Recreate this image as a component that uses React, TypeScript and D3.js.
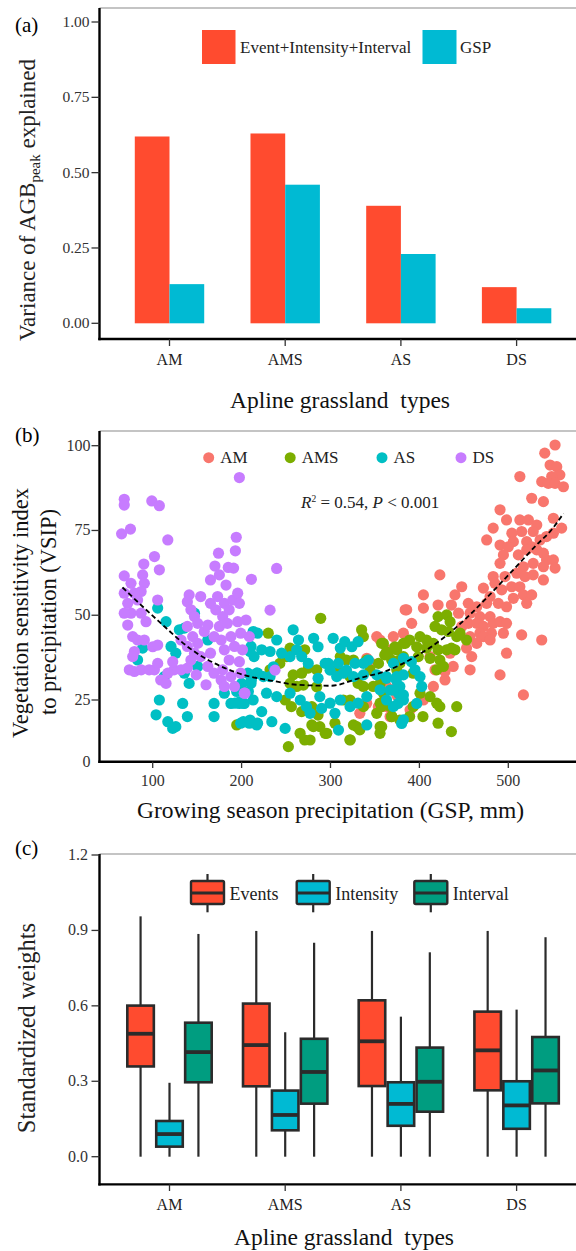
import * as d3 from "d3";

const FONT = "'Liberation Serif', 'DejaVu Serif', serif";
const RED = "#FF4B2F";
const CYAN = "#00BAD3";
const TEAL = "#009D80";
const INK = "#2b2b2b";

const TYPES = ["AM", "AMS", "AS", "DS"];

// (a) variance explained
const VAR_SERIES = ["Event+Intensity+Interval", "GSP"];
const VAR_EVENT = [0.62, 0.63, 0.39, 0.12];
const VAR_GSP = [0.13, 0.46, 0.23, 0.05];
const A_TICKS = [0, 0.25, 0.5, 0.75, 1];

// (b) VSIP vs GSP, points as [GSP mm, VSIP]
const GROUPS = ["AM", "AMS", "AS", "DS"];
const GROUP_COLORS = ["#F8766D", "#7CAE00", "#00BFC4", "#C77CFF"];
const AM_PTS = [
  [552.6, 100.2], [541, 97.8], [547, 94.3], [554.5, 93.8], [558, 91.4], [548.8, 90.9], [537.6, 89.4], [545, 88.9],
  [552.6, 88.9], [562, 87.9], [513, 90.9], [526.3, 84.5], [539.5, 83.5], [550.7, 78.6], [560, 75.7], [490.7, 81.1],
  [498, 78.1], [483, 75.7], [475.7, 72.2], [513, 78.1], [522.6, 78.1], [532, 76.6], [515, 74.7], [528, 74.7],
  [535.7, 72.2], [543, 73.2], [550.7, 74.2], [504, 74.2], [505.7, 71.7], [520.7, 71.7], [526.3, 70.2], [490.7, 70.7],
  [500, 70.2], [494.5, 67.8], [490.7, 65.3], [511.3, 67.8], [520.7, 69.3], [532, 69.3], [539.5, 68.3], [543, 66.3],
  [550.7, 66.3], [539.5, 64.3], [552.6, 63.9], [528, 65.3], [517, 64.3], [509.5, 62.4], [423, 61.9], [483, 61.4],
  [496.3, 61.4], [485, 59.4], [518.8, 61.4], [528, 61.9], [539.5, 60.4], [503.8, 58.4], [513, 58.4], [492.6, 57.5],
  [505.7, 55], [517, 56], [526.3, 56], [520.7, 53.5], [404.5, 56], [440, 56], [447.6, 58.4], [472, 58],
  [479.5, 55.5], [385.7, 51.6], [404.5, 52.1], [421, 53], [436, 53], [444, 50.6], [455, 53.5], [464.5, 52.5],
  [475.7, 53.5], [488.8, 53.5], [498, 52.5], [457, 50.6], [468, 49.6], [479.5, 49.6], [455, 47.6], [464.5, 47.6],
  [472, 46.7], [483, 47.6], [490.7, 48.1], [498, 47.6], [468, 44.7], [481, 44.7], [494.5, 44.7], [447.6, 46.7],
  [457, 43.7], [472, 43.7], [464.5, 41.7], [479.5, 42.7], [515, 44.2], [537.6, 42.7], [453, 40.3], [458.8, 37.8],
  [498, 38.8], [434.5, 38.8], [438, 34.9], [428.8, 30.9], [457, 33.9], [490.7, 32.4], [517, 26.5], [391.3, 47.6],
  [382, 44.7], [370.7, 43.7], [412, 37.8], [417.6, 33.9], [428.8, 33.4], [415.7, 29], [404.5, 25], [393, 22.3],
  [374.5, 29], [363, 22.3], [367, 18.3], [355.7, 42.7], [346.3, 35.8], [340.7, 23.7], [333, 19.6], [353.8, 22.3],
  [367, 22.3], [374.5, 26.4], [384, 51.6], [352, 43.7], [340.8, 37.3], [367, 39.8], [357.6, 22.3], [363, 29],
  [389.5, 21],
];
const AMS_PTS = [
  [289, 49.1], [230, 44.7], [254.5, 40.3], [271, 39.8], [250.8, 37.8], [275, 34.4], [284.5, 33.9], [267.6, 32.9],
  [258, 32.4], [269.5, 29.4], [284.5, 28.9], [254.5, 29.9], [262, 29], [249, 25], [256, 22.3], [267.6, 20.3],
  [279, 22.3], [286, 18.9], [194.5, 14.9], [279, 14.9], [288, 14.2], [295.8, 11.5], [265.8, 11.5], [271, 8.8],
  [277, 8.8], [252.6, 6.1], [322, 8.8], [325.8, 14.9], [329.5, 14.2], [355.8, 14.2], [369, 18.3], [335, 45.7],
  [337, 43.7], [359.5, 41.7], [365, 38.8], [374.5, 39.8], [384, 41.7], [382, 37.8], [311, 37.8], [318, 36.8],
  [307, 33.9], [325.8, 36.8], [340.8, 36.8], [344.5, 33.9], [322, 31.9], [331, 29.9], [348, 29], [355.8, 29.9],
  [359.5, 27], [355.8, 23.7], [352, 19.6], [367, 22.3], [337, 22.3], [322, 25], [314.5, 25], [337, 29],
  [243, 35.8], [232, 33.9], [421, 49.6], [430.7, 50.1], [434.5, 48.1], [417.6, 46.7], [425, 45.7], [432.6, 45.2],
  [442, 43.7], [453, 42.7], [445.7, 44.7], [400.7, 43.7], [408, 42.7], [415.7, 41.7], [397, 40.7], [408, 40.3],
  [421, 39.8], [430.7, 39.8], [436, 40.3], [440, 39.8], [398.8, 37.8], [412, 37.3], [423, 36.8], [419.5, 33.9],
  [427, 34.9], [389, 42.7], [382, 41.7], [372.6, 40.7], [378, 36.8], [368.8, 36.8], [357.6, 41.7], [361, 38.3],
  [374.5, 33.9], [393, 32.9], [400.7, 27], [412, 26], [419.5, 23.7], [423, 22.3], [442, 22.3], [421, 15.6],
  [436, 12.2], [393, 22.3], [368.8, 18.3], [357.6, 22.3], [357.6, 14.2], [280.7, 14.2], [294, 11.5], [305, 15.6],
  [322, 8.9], [333, 12.9], [355.7, 11.5], [378, 16.9], [389, 18.3], [404, 18.3], [363, 39.2], [354, 35.8],
  [378, 35.8],
];
const AS_PTS = [
  [105.6, 52.1], [115, 48.1], [130, 45.7], [135.6, 46.2], [147, 50.6], [120.6, 40.8], [126, 38.8], [88.7, 40.3],
  [83, 36.8], [113, 31.9], [141, 29.9], [135.6, 32.9], [150.6, 34.9], [162, 42.7], [107.5, 25], [103.8, 19],
  [133.7, 23.6], [139, 18.3], [117, 16.2], [122.5, 13.5], [126, 14.2], [169, 23.6], [169, 18.3], [188, 23.6],
  [197.5, 23.6], [203, 23.6], [199, 15.6], [208.7, 15.6], [218, 15.6], [210.6, 40.8], [218, 44.7], [214, 37.8],
  [207, 32.9], [210.6, 29.9], [218, 32.9], [180.6, 27], [213, 45.2], [258, 45.7], [264, 42.7], [281, 43.2],
  [286, 40.7], [303, 43.2], [311, 40.3], [316, 42.2], [324, 40.7], [331, 42.2], [239.5, 42.7], [245, 38.8],
  [254.5, 37.8], [262, 39.8], [235.8, 34.8], [222.6, 39.8], [232, 39.3], [209.5, 39.3], [217, 32.9], [224.5, 31.9],
  [232, 31.9], [211, 30.9], [228, 27], [239.5, 26], [213, 25], [202, 23.7], [192.6, 23.7], [254.5, 27],
  [266, 25], [273, 22.3], [286, 31.4], [297.6, 35.8], [307, 31.9], [314.5, 32.9], [325.8, 31.9], [337, 32.4],
  [342.6, 36.8], [352, 32.4], [363, 31.9], [370.8, 35.8], [374.5, 31.9], [378, 29], [382, 32.4], [376.4, 27],
  [367, 27.9], [288, 26], [299.5, 23.7], [305, 19.6], [311, 25], [322, 22.3], [331, 23.7], [340.8, 26],
  [355.8, 28], [363, 25], [370.8, 22.3], [382, 25], [222.6, 20.3], [234, 16.2], [249, 13.5], [277, 19.6],
  [290, 21.6], [309, 12.8], [340.8, 14.9], [380, 15.5], [202, 16.2], [209.5, 16.9], [217, 14.9], [200, 29.9],
  [194.5, 27.5], [207.6, 27.5], [198, 24.3], [382, 37.3], [391, 36.3], [395, 33.9], [363, 31.4], [374, 30.9],
  [400.7, 31.9], [402.6, 29], [370.7, 28], [382, 26.5], [376, 23.6], [397, 23.6], [382, 17], [267.6, 37.8],
  [275, 35.8], [294, 35.8], [299.5, 33.8], [308.8, 35.8], [318, 33.8], [327.6, 35.8], [337, 35.8],
];
const DS_PTS = [
  [197.5, 90.6], [68, 84.2], [68, 82.5], [99, 83.7], [107.5, 82.3], [65, 74], [75, 75.4], [117, 72.2],
  [194, 73], [193, 69], [102, 67.3], [107.5, 63.4], [90, 65.1], [174, 68.3], [170, 64.5], [185, 64.1],
  [191, 63.9], [211, 60.6], [165, 60.4], [175, 61.9], [182.5, 58.9], [68, 61.6], [75.6, 59.4], [88.7, 61.9],
  [90.6, 59.4], [87, 57], [68, 56.5], [71.9, 53.5], [79.4, 56.5], [83, 54.5], [75.6, 50.6], [68, 50.6],
  [71.9, 47.1], [77.5, 43.7], [87, 50.6], [92.5, 48.1], [83, 42.7], [79.4, 39.3], [73.7, 33.9], [79.4, 33.4],
  [87, 33.9], [96, 33.9], [101.9, 33.9], [105.6, 35.8], [100, 40.7], [105.6, 41.2], [77.5, 37.8], [90.6, 42.7],
  [105.6, 54.5], [141, 56], [139, 54], [154, 55.5], [143, 51.6], [147, 49.6], [139, 46.7], [150.6, 47.6],
  [145, 43.7], [158, 45.2], [131.9, 42.7], [139, 40.8], [147, 38.8], [150.6, 41.7], [154, 37.8], [143, 36.8],
  [124, 33.9], [131.9, 33.9], [117, 32.9], [109, 30.9], [115, 29.9], [149, 32.4], [162, 34.9], [169, 32.9],
  [165, 38.8], [160, 29.5], [177, 30.9], [165, 53.5], [173, 55.5], [180.6, 53.5], [171, 51.6], [178.7, 49.6],
  [186, 51.6], [190, 54.5], [195.6, 56.5], [197.5, 53.5], [162, 47.1], [175, 46.7], [184, 47.6], [195.6, 48.1],
  [205, 48.6], [208.7, 43.7], [199, 44.7], [188, 43.7], [177, 42.7], [169, 43.7], [180.6, 39.8], [192, 40.8],
  [201, 39.8], [186, 36.8], [197.5, 36.3], [178.7, 33.9], [188, 31.9], [199, 32.9], [180.6, 29], [192, 29],
  [203, 27], [139, 34.4], [122.5, 36.3], [239.4, 63.8], [232, 51.5], [237.6, 33.8], [203.8, 27],
];
const GROUP_PTS = [AM_PTS, AMS_PTS, AS_PTS, DS_PTS];
const TREND_GSP = [66, 106, 143, 193, 240, 262, 300, 333, 362, 400, 424, 457, 480, 506, 532, 548, 562];
const TREND_VSIP = [58.2, 48.4, 40, 33.2, 30.4, 29.5, 29.2, 31.5, 33.5, 38.5, 42.7, 50.2, 56.3, 63.5, 70.8, 75, 80];
const B_XTICKS = [100, 200, 300, 400, 500];
const B_YTICKS = [0, 25, 50, 75, 100];

// (c) standardized weights, boxes as [min, q1, median, q3, max]
const WEIGHT_SERIES = ["Events", "Intensity", "Interval"];
const WEIGHT_COLORS = [RED, CYAN, TEAL];
const EVENTS_BOX = [[0, 0.359, 0.489, 0.601, 0.956], [0, 0.28, 0.444, 0.609, 0.898], [0, 0.281, 0.459, 0.622, 0.898], [0, 0.264, 0.423, 0.577, 0.898]];
const INTENSITY_BOX = [[0, 0.04, 0.09, 0.142, 0.294], [0, 0.105, 0.166, 0.263, 0.495], [0, 0.123, 0.21, 0.296, 0.557], [0, 0.111, 0.204, 0.3, 0.585]];
const INTERVAL_BOX = [[0, 0.296, 0.416, 0.533, 0.886], [0, 0.211, 0.337, 0.469, 0.851], [0, 0.179, 0.298, 0.434, 0.813], [0, 0.212, 0.343, 0.476, 0.873]];
const WEIGHT_BOXES = [EVENTS_BOX, INTENSITY_BOX, INTERVAL_BOX];
const C_TICKS = [0, 0.3, 0.6, 0.9, 1.2];

const W = 576;
const H = 1251;
const AX_L = 99.5;
const PRE = { whiteSpace: "pre" };

function Frame({ top, bottom }) {
  return (
    <g>
      <line x1={AX_L} x2={W} y1={top} y2={top} stroke="#8a8a8a" strokeWidth={1.2} />
      <line x1={AX_L} x2={AX_L} y1={top} y2={bottom + 1.2} stroke="#000" strokeWidth={2.4} />
      <line x1={AX_L - 1.2} x2={W} y1={bottom} y2={bottom} stroke="#000" strokeWidth={2.4} />
    </g>
  );
}

export default function App() {
  const xCat = d3.scalePoint().domain(TYPES).range([169.5, 516.6]);
  const step = xCat.step();

  // panel a
  const yA = d3.scaleLinear().domain([0, 1]).range([323.3, 22]);
  const dodgeA = d3.scaleBand().domain(VAR_SERIES).range([-0.3 * step, 0.3 * step]);
  const varValues = [VAR_EVENT, VAR_GSP];
  const varColors = [RED, CYAN];

  // panel b
  const xB = d3.scaleLinear().domain([100, 500]).range([152.7, 508.3]);
  const yB = d3.scaleLinear().domain([0, 25, 100]).range([761.7, 700, 445.7]);
  const trend = d3.line().x((d) => xB(d[0])).y((d) => yB(d[1])).curve(d3.curveMonotoneX);
  const trendPts = TREND_GSP.map((g, i) => [g, TREND_VSIP[i]]);

  // panel c
  const yC = d3.scaleLinear().domain([0, 1.2]).range([1156.7, 855]);
  const dodgeC = d3.scaleBand().domain(WEIGHT_SERIES).range([-0.375 * step, 0.375 * step]);
  const bw = dodgeC.bandwidth();

  return (
    <div style={{ position: "absolute", left: 0, top: 0 }}>
      <svg width={W} height={H} style={{ display: "block", background: "#fff" }} fontFamily={FONT}>
        {/* ---------- (a) ---------- */}
        <text x={15} y={31.5} fontSize={21}>(a)</text>
        {VAR_SERIES.map((s, si) =>
          TYPES.map((t, i) => (
            <rect key={s + t} x={xCat(t) + dodgeA(s)} width={dodgeA.bandwidth()} y={yA(varValues[si][i])}
              height={yA(0) - yA(varValues[si][i])} fill={varColors[si]} />
          ))
        )}
        <Frame top={8} bottom={339} />
        {A_TICKS.map((v) => (
          <g key={v}>
            <line x1={AX_L - 8} x2={AX_L} y1={yA(v)} y2={yA(v)} stroke="#333" strokeWidth={1.3} />
            <text x={89.5} y={yA(v) + 5} textAnchor="end" fontSize={15.5} fill="#333">{d3.format(".2f")(v)}</text>
          </g>
        ))}
        {TYPES.map((t) => (
          <g key={t}>
            <line x1={xCat(t)} x2={xCat(t)} y1={339} y2={346} stroke="#333" strokeWidth={1.3} />
            <text x={xCat(t)} y={365} textAnchor="middle" fontSize={16} fill="#222">{t}</text>
          </g>
        ))}
        <rect x={202} y={30} width={33.5} height={34} fill={RED} />
        <text x={240} y={52.5} fontSize={17} fill="#222">{VAR_SERIES[0]}</text>
        <rect x={422.5} y={30} width={34} height={34} fill={CYAN} />
        <text x={460} y={52.5} fontSize={17} fill="#222">{VAR_SERIES[1]}</text>
        <text transform="translate(35,200) rotate(-90)" textAnchor="middle" fontSize={23} fill="#222">
          Variance of AGB<tspan fontSize={15} dy={5}>peak</tspan><tspan dy={-5} style={PRE}> explained</tspan>
        </text>
        <text x={340} y={408} textAnchor="middle" fontSize={23.5} fill="#111" style={PRE}>Apline grassland  types</text>

        {/* ---------- (b) ---------- */}
        <text x={15} y={441.5} fontSize={21}>(b)</text>
        {GROUP_PTS.map((pts, gi) => (
          <g key={GROUPS[gi]}>
            {pts.map((p, i) => (
              <circle key={i} cx={xB(p[0])} cy={yB(p[1])} r={5.6} fill={GROUP_COLORS[gi]} />
            ))}
          </g>
        ))}
        <path d={trend(trendPts)} fill="none" stroke="#000" strokeWidth={1.8} strokeDasharray="5,3" />
        <Frame top={431} bottom={761.7} />
        {B_YTICKS.map((v) => (
          <g key={v}>
            {v > 0 && <line x1={AX_L - 8} x2={AX_L} y1={yB(v)} y2={yB(v)} stroke="#333" strokeWidth={1.3} />}
            <text x={90.5} y={yB(v) + 5} textAnchor="end" fontSize={16} fill="#333">{v}</text>
          </g>
        ))}
        {B_XTICKS.map((v) => (
          <g key={v}>
            <line x1={xB(v)} x2={xB(v)} y1={761.7} y2={768} stroke="#333" strokeWidth={1.3} />
            <text x={xB(v)} y={786} textAnchor="middle" fontSize={16} fill="#333">{v}</text>
          </g>
        ))}
        {[208.7, 290.2, 382, 461].map((lx, gi) => (
          <g key={GROUPS[gi]}>
            <circle cx={lx} cy={457.7} r={5.5} fill={GROUP_COLORS[gi]} />
            <text x={lx + 11.5} y={463} fontSize={17} fill="#222">{GROUPS[gi]}</text>
          </g>
        ))}
        <text x={301} y={507.5} fontSize={17} fill="#222" style={PRE}>
          <tspan fontStyle="italic">R</tspan><tspan fontSize={9.5} dy={-6}>2</tspan><tspan dy={6}> = 0.54, </tspan>
          <tspan fontStyle="italic">P</tspan> &lt; 0.001
        </text>
        <text transform="translate(28,613) rotate(-90)" textAnchor="middle" fontSize={22.5} fill="#111">Vegetation sensitivity index</text>
        <text transform="translate(56,612) rotate(-90)" textAnchor="middle" fontSize={22.5} fill="#111">to precipitation (VSIP)</text>
        <text x={330.6} y={818} textAnchor="middle" fontSize={23.5} fill="#111">Growing season precipitation (GSP, mm)</text>

        {/* ---------- (c) ---------- */}
        <text x={15} y={855} fontSize={21}>(c)</text>
        {WEIGHT_SERIES.map((s, si) =>
          TYPES.map((t, i) => {
            const [mn, q1, md, q3, mx] = WEIGHT_BOXES[si][i];
            const x0 = xCat(t) + dodgeC(s);
            const cx = x0 + bw / 2;
            return (
              <g key={s + t}>
                <line x1={cx} x2={cx} y1={yC(mx)} y2={yC(mn)} stroke={INK} strokeWidth={2.2} />
                <rect x={x0 + 1.2} y={yC(q3)} width={bw - 2.4} height={yC(q1) - yC(q3)} fill={WEIGHT_COLORS[si]}
                  stroke={INK} strokeWidth={2.6} />
                <line x1={x0 + 1.2} x2={x0 + bw - 1.2} y1={yC(md)} y2={yC(md)} stroke={INK} strokeWidth={3.8} />
              </g>
            );
          })
        )}
        <Frame top={854} bottom={1184.4} />
        {C_TICKS.map((v) => (
          <g key={v}>
            <line x1={AX_L - 8} x2={AX_L} y1={yC(v)} y2={yC(v)} stroke="#333" strokeWidth={1.3} />
            <text x={88} y={yC(v) + 5} textAnchor="end" fontSize={16} fill="#333">{d3.format(".1f")(v)}</text>
          </g>
        ))}
        {TYPES.map((t) => (
          <g key={t}>
            <line x1={xCat(t)} x2={xCat(t)} y1={1184.4} y2={1191} stroke="#333" strokeWidth={1.3} />
            <text x={xCat(t)} y={1210} textAnchor="middle" fontSize={16} fill="#222">{t}</text>
          </g>
        ))}
        {[190, 295.7, 413.3].map((kx, si) => (
          <g key={WEIGHT_SERIES[si]}>
            <line x1={kx + 17.5} x2={kx + 17.5} y1={874} y2={912.3} stroke={INK} strokeWidth={2.2} />
            <rect x={kx + 1} y={881} width={33} height={23} rx={1.5} fill={WEIGHT_COLORS[si]} stroke={INK} strokeWidth={2.4} />
            <line x1={kx + 1} x2={kx + 34} y1={893} y2={893} stroke={INK} strokeWidth={3} />
            <text x={kx + 39.5} y={900} fontSize={18} fill="#222">{WEIGHT_SERIES[si]}</text>
          </g>
        ))}
        <text transform="translate(35,1028) rotate(-90)" textAnchor="middle" fontSize={24.5} fill="#222">Standardized weights</text>
        <text x={344} y={1245} textAnchor="middle" fontSize={23.5} fill="#111" style={PRE}>Apline grassland  types</text>
      </svg>
    </div>
  );
}
